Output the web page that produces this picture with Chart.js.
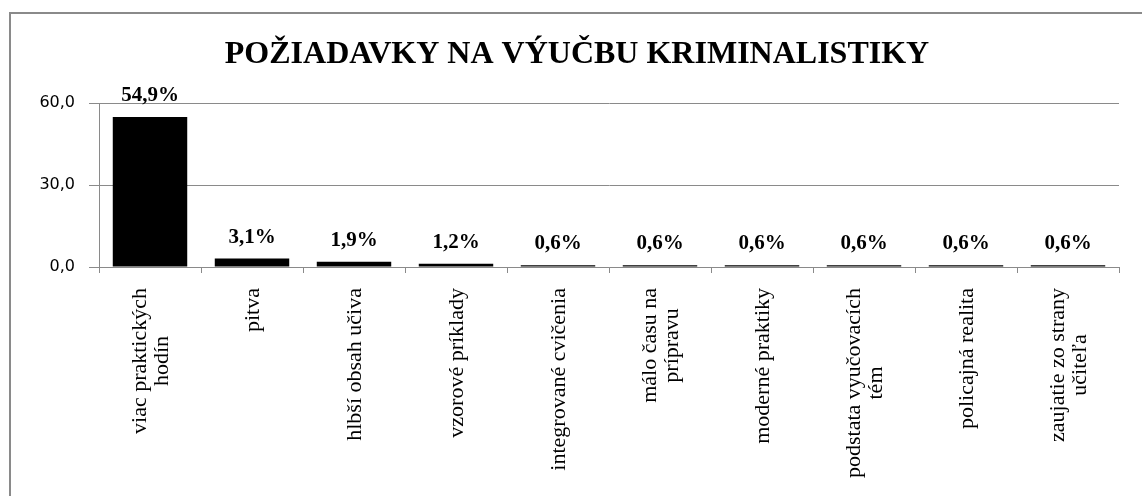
<!DOCTYPE html>
<html>
<head>
<meta charset="utf-8">
<title>Požiadavky na výučbu kriminalistiky</title>
<script src="https://cdn.jsdelivr.net/npm/chart.js@4/dist/chart.umd.min.js"></script>
<style>
  html, body { margin: 0; padding: 0; background: #fff; overflow: hidden; }
</style>
</head>
<body>
<canvas id="my-chart" width="1142" height="496"></canvas>
<script>
'use strict';

// **** Data ****

let chartTitle = 'POŽIADAVKY NA VÝUČBU KRIMINALISTIKY';

let categories = [
  ['viac praktických', 'hodín'],
  ['pitva'],
  ['hlbší obsah učiva'],
  ['vzorové príklady'],
  ['integrované cvičenia'],
  ['málo času na', 'prípravu'],
  ['moderné praktiky'],
  ['podstata vyučovacích', 'tém'],
  ['policajná realita'],
  ['zaujatie zo strany', 'učiteľa']
];

let percentValues = [54.9, 3.1, 1.9, 1.2, 0.6, 0.6, 0.6, 0.6, 0.6, 0.6];

let yTicks = [0, 30, 60];

// **** Helpers ****

function formatNumber(v) {
  return v.toFixed(1).replace('.', ',');
}

let axisGrey = '#8a8a8a';

// **** Plugin: frame, title, value labels, category labels ****

let chartDecor = {
  id: 'chartDecor',
  beforeDraw(chart) {
    let c = chart.ctx;
    c.save();
    c.fillStyle = '#ffffff';
    c.fillRect(0, 0, chart.width, chart.height);
    c.strokeStyle = axisGrey;
    c.lineWidth = 2;
    c.strokeRect(10, 13, 1200, 600);
    c.fillStyle = '#000000';
    c.font = 'bold 32px "Liberation Serif"';
    c.textAlign = 'center';
    c.textBaseline = 'alphabetic';
    c.fillText(chartTitle, 577, 63);
    c.restore();
  },
  afterDatasetsDraw(chart) {
    let c = chart.ctx;
    let meta = chart.getDatasetMeta(0);
    c.save();
    c.fillStyle = '#000000';
    c.textAlign = 'center';
    c.textBaseline = 'alphabetic';
    c.font = 'bold 21px "Liberation Serif"';
    meta.data.forEach(function(bar, i) {
      c.fillText(formatNumber(percentValues[i]) + '%', bar.x, bar.y - 16);
    });

    let xScale = chart.scales.x;
    c.font = '22px "Liberation Serif"';
    c.textBaseline = 'middle';
    categories.forEach(function(lines, i) {
      let x = xScale.getPixelForValue(i);
      let maxW = 0;
      for (let j = 0; j < lines.length; j++) {
        maxW = Math.max(maxW, c.measureText(lines[j]).width);
      }
      c.save();
      c.translate(x + 1, xScale.top + 21 + maxW / 2);
      c.rotate(-Math.PI / 2);
      for (let j = 0; j < lines.length; j++) {
        c.fillText(lines[j], 0, (j - (lines.length - 1) / 2) * 22);
      }
      c.restore();
    });
    c.restore();
  }
};

// **** Chart ****

let ctx = document.getElementById('my-chart').getContext('2d');

new Chart(ctx, {
  type: 'bar',
  data: {
    labels: categories.map(function(l) { return l.join(' '); }),
    datasets: [{
      data: percentValues,
      backgroundColor: '#000000',
      borderWidth: 0,
      barPercentage: 0.73,
      categoryPercentage: 1.0
    }]
  },
  options: {
    responsive: false,
    animation: false,
    layout: {
      padding: { top: 103, right: 23, bottom: 0, left: 0 }
    },
    plugins: {
      legend: { display: false },
      tooltip: { enabled: false },
      title: { display: false }
    },
    scales: {
      x: {
        grid: {
          drawOnChartArea: false,
          drawTicks: true,
          tickLength: 6,
          color: axisGrey,
          offset: true
        },
        border: { color: axisGrey },
        ticks: { display: false },
        afterFit: function(scale) { scale.height = 229; }
      },
      y: {
        min: 0,
        max: 60,
        grid: { color: axisGrey, tickLength: 10 },
        border: { color: axisGrey },
        afterBuildTicks: function(scale) {
          scale.ticks = yTicks.map(function(v) { return { value: v }; });
        },
        ticks: {
          padding: 14,
          color: '#000000',
          font: { family: 'DejaVu Sans', size: 16 },
          callback: function(v) { return formatNumber(v); }
        },
        afterFit: function(scale) { scale.width = 99; }
      }
    }
  },
  plugins: [chartDecor]
});
</script>
</body>
</html>
